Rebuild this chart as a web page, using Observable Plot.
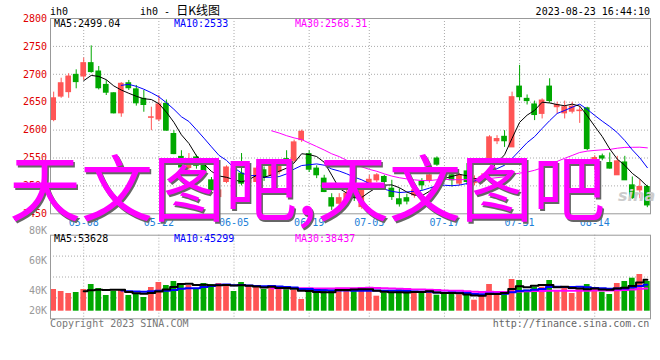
<!DOCTYPE html>
<html><head><meta charset="utf-8">
<script src="https://cdn.jsdelivr.net/npm/d3@7"></script>
<script src="https://cdn.jsdelivr.net/npm/@observablehq/plot@0.6"></script>
<style>
body{margin:0;background:#fff;}
#wrap{position:relative;width:660px;height:360px;overflow:hidden;font-family:"DejaVu Sans Mono",monospace;font-size:10px;}
.t{position:absolute;white-space:pre;line-height:1;}
.chart{position:absolute;left:0;}
.price [aria-label^="y-axis"] text{fill:#e00000;}
.price [aria-label^="x-axis"] text{fill:#1e7fd8;}
.vol [aria-label^="y-axis"] text{fill:#999;}
#overlay{position:absolute;left:9px;top:148px;font-family:"Noto Sans CJK SC",sans-serif;font-size:72px;line-height:1;color:#ff00ff;white-space:nowrap;text-shadow:1.5px 1.5px 0 #666;z-index:10;}
#sina{position:absolute;left:618px;top:188px;font-family:"DejaVu Sans",sans-serif;font-style:italic;font-weight:bold;font-size:16px;color:#ccc;line-height:1;}
</style></head>
<body><div id="wrap">
<div class="t" style="left:50px;top:7px;">ih0</div>
<div class="t" style="left:140px;top:4px;">ih0 - <span style="font-family:'Noto Sans CJK SC';font-size:12px;">日K线图</span></div>
<div class="t" style="right:10px;top:7px;">2023-08-23 16:44:10</div>
<div id="price" class="chart price" style="top:0;"></div>
<div id="vol" class="chart vol" style="top:228px;"></div>
<div class="t" style="left:54px;top:19px;color:#000;">MA5:2499.04</div>
<div class="t" style="left:174px;top:19px;color:#0000ff;">MA10:2533</div>
<div class="t" style="left:295px;top:19px;color:#ff00ff;">MA30:2568.31</div>
<div class="t" style="left:54px;top:233.5px;color:#000;">MA5:53628</div>
<div class="t" style="left:174px;top:233.5px;color:#0000ff;">MA10:45299</div>
<div class="t" style="left:295px;top:233.5px;color:#ff00ff;">MA30:38437</div>
<div class="t" style="left:50px;top:318.5px;color:#777;">Copyright 2023 SINA.COM</div>
<div class="t" style="right:10.7px;top:319px;color:#666;">http://finance.sina.com.cn</div>
<div id="sina">sina</div>
<div id="overlay">天文图吧,天文图吧</div>
</div>
<script>
// ---- data (80 trading days, 2023-04-27 .. 2023-08-23) ----
const opens = [2618,2660,2668,2699,2696,2720,2705,2681,2666,2630,2684,2673,2656,2622,2619,2647,2593,2552,2532,2551,
2540,2510,2480,2507,2530,2522,2505,2507,2528,2519,2525,2548,2545,2582,2557,2531,2513,2478,2468,2471,
2490,2462,2504,2510,2516,2495,2476,2478,2483,2507,2510,2549,2528,2519,2504,2526,2505,2507,2549,2580,
2588,2569,2678,2656,2646,2629,2678,2641,2630,2633,2634,2639,2547,2553,2541,2519,2542,2501,2492,2498];
const highs = [2668,2693,2701,2708,2729,2751,2714,2689,2667,2685,2689,2680,2671,2641,2662,2654,2599,2563,2558,2555,
2545,2515,2496,2536,2538,2558,2520,2535,2534,2540,2542,2563,2582,2600,2563,2536,2519,2486,2486,2492,
2496,2496,2519,2522,2519,2510,2495,2485,2498,2513,2524,2552,2533,2525,2522,2540,2518,2522,2590,2590,
2599,2668,2716,2663,2652,2656,2692,2650,2652,2650,2642,2641,2554,2557,2559,2553,2553,2516,2511,2501];
const lows = [2615,2657,2657,2674,2689,2702,2672,2662,2629,2623,2671,2643,2632,2599,2615,2598,2556,2524,2527,2530,
2520,2488,2475,2504,2510,2500,2498,2503,2508,2514,2520,2535,2540,2578,2524,2513,2488,2456,2462,2465,
2472,2458,2503,2506,2501,2474,2462,2466,2478,2492,2505,2535,2512,2498,2500,2501,2500,2503,2545,2574,
2569,2569,2652,2645,2617,2620,2648,2629,2620,2629,2612,2563,2528,2545,2530,2519,2510,2476,2477,2461];
const closes = [2657,2684,2696,2686,2720,2704,2675,2667,2630,2683,2675,2648,2645,2623,2646,2599,2557,2533,2545,2536,
2524,2492,2492,2533,2515,2504,2512,2531,2515,2536,2537,2540,2578,2597,2529,2519,2489,2463,2478,2486,
2478,2492,2511,2519,2507,2480,2467,2472,2492,2501,2519,2538,2517,2510,2519,2507,2512,2516,2587,2584,
2580,2659,2659,2652,2627,2653,2652,2645,2641,2642,2635,2566,2550,2549,2531,2544,2510,2478,2498,2465];
const volumes = [37064,33648,30232,31940,37064,45604,38772,26816,34160,37064,26816,28524,23400,40480,49020,43896,50728,47312,43896,37064,
47312,45604,47312,45604,33648,49020,42188,40480,37064,40480,38772,40480,35356,19984,37064,31940,37064,35868,38260,38260,
35868,38260,35868,25620,31430,31430,36550,34160,30232,31430,37064,27330,29720,30232,28010,26816,18790,28524,45604,28010,
33648,54144,52436,35868,40990,40990,52436,34160,39970,30232,36550,45604,40480,32450,28524,47312,50728,56364,62684,50728];
const dateTickIdx = [4,14,24,34,42,52,62,72];
const dateTickLabels = ["05-08","05-22","06-05","06-19","07-03","07-17","07-31","08-14"];
const priceTicks = [2450,2500,2550,2600,2650,2700,2750,2800];
const volTickValues = [136600,86100,34800,1200];
const volTickLabels = ["80K","60K","40K","20K"];

const RED = "#ff5555", GREEN = "#00a800";
const N = opens.length;
const rows = d3.range(N).map(i => ({i, open: opens[i], high: highs[i], low: lows[i], close: closes[i], vol: volumes[i]}));
const up = rows.filter(d => d.close >= d.open), down = rows.filter(d => d.close < d.open);
function ma(key, k){ return rows.map((d, i) => ({i, v: i < k - 1 ? null : d3.mean(rows.slice(i - k + 1, i + 1), r => r[key])})); }
const labelOf = new Map(dateTickIdx.map((d, j) => [d, dateTickLabels[j]]));
const xScale = {type: "band", domain: d3.range(N), paddingInner: 0.24, paddingOuter: 0.04, tickSize: 0, tickPadding: 5, tickFormat: i => labelOf.get(i) ?? "", label: null};
const style = {fontFamily: "DejaVu Sans Mono, monospace", fontSize: "10px", background: "transparent", overflow: "visible"};
const dash = "1,2";

const price = Plot.plot({
  width: 660, height: 228, marginLeft: 50, marginRight: 10, marginTop: 18, marginBottom: 14.7,
  style,
  x: xScale,
  y: {domain: [2450, 2800], ticks: priceTicks, tickFormat: d => String(d), tickSize: 0, tickPadding: 3.5, label: null},
  marks: [
    Plot.ruleY(priceTicks.slice(1, -1), {stroke: "#aaa", strokeDasharray: dash}),
    Plot.ruleX(dateTickIdx, {stroke: "#aaa", strokeDasharray: dash}),
    Plot.ruleX(up, {x: "i", y1: "low", y2: "high", stroke: RED}),
    Plot.ruleX(down, {x: "i", y1: "low", y2: "high", stroke: GREEN}),
    Plot.barY(up, {x: "i", y1: "open", y2: "close", fill: RED, insetTop: -0.5, insetBottom: -0.5}),
    Plot.barY(down, {x: "i", y1: "open", y2: "close", fill: GREEN, insetTop: -0.5, insetBottom: -0.5}),
    Plot.line(ma("close", 30), {x: "i", y: "v", stroke: "#ff00ff", strokeWidth: 1}),
    Plot.line(ma("close", 10), {x: "i", y: "v", stroke: "#0000ff", strokeWidth: 1}),
    Plot.line(ma("close", 5), {x: "i", y: "v", stroke: "#000", strokeWidth: 1}),
    Plot.frame({stroke: "#999"})
  ]
});
document.getElementById("price").append(price);

const vDomain = [-12980, 129810];
const vGrid = [1, 2, 3].map(k => vDomain[0] + k * (vDomain[1] - vDomain[0]) / 4);
const vol = Plot.plot({
  width: 660, height: 132, marginLeft: 50, marginRight: 10, marginTop: 6.7, marginBottom: 41.7,
  style,
  x: {...xScale, axis: null},
  y: {domain: vDomain, ticks: volTickValues, tickFormat: v => volTickLabels[volTickValues.indexOf(v)], tickSize: 0, tickPadding: 3.5, label: null},
  marks: [
    Plot.ruleY(vGrid, {stroke: "#aaa", strokeDasharray: dash}),
    Plot.ruleX(dateTickIdx, {stroke: "#aaa", strokeDasharray: dash}),
    Plot.barY(up, {x: "i", y1: 0, y2: "vol", fill: RED}),
    Plot.barY(down, {x: "i", y1: 0, y2: "vol", fill: GREEN}),
    Plot.line(ma("vol", 30), {x: "i", y: "v", stroke: "#ff00ff", strokeWidth: 2, curve: "step"}),
    Plot.line(ma("vol", 10), {x: "i", y: "v", stroke: "#0000ff", strokeWidth: 2, curve: "step"}),
    Plot.line(ma("vol", 5), {x: "i", y: "v", stroke: "#000", strokeWidth: 2, curve: "step"}),
    Plot.frame({stroke: "#999"})
  ]
});
document.getElementById("vol").append(vol);
</script>
</body></html>
